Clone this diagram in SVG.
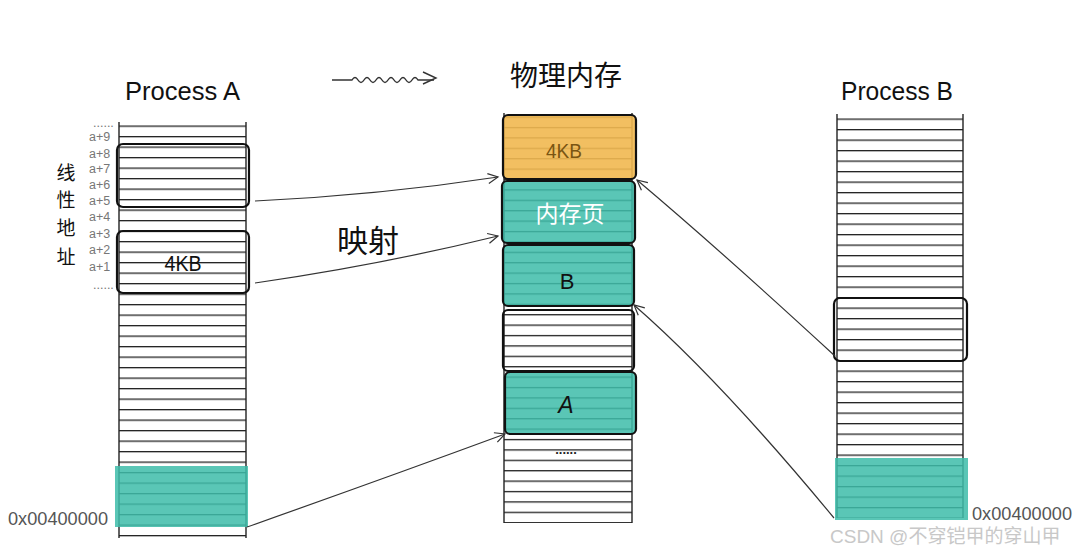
<svg xmlns="http://www.w3.org/2000/svg" width="1077" height="552" viewBox="0 0 1077 552">
<style>
.title{font-family:"Liberation Sans",sans-serif;font-size:26px;fill:#111}
.cjk{font-family:"Noto Sans CJK SC",sans-serif;fill:#111}
.addr{font-family:"Liberation Sans",sans-serif;font-size:12.5px;fill:#777}
.hex{font-family:"Liberation Sans",sans-serif;font-size:18px;fill:#555}
.box{stroke:#111;stroke-width:2.2}
.teal{fill:#3fbdaa;fill-opacity:0.86}
.orange{fill:#f1b850;fill-opacity:0.9}
.conn{fill:none;stroke:#333;stroke-width:1.2}
.col{stroke:#222;stroke-width:1.4}
.lbl{font-family:"Liberation Sans",sans-serif;text-anchor:middle}
</style>
<defs>
<pattern id="rowsA" patternUnits="userSpaceOnUse" x="0" y="125.5" width="10" height="10.5"><rect width="10" height="1.3" fill="#222"/></pattern>
<pattern id="rowsM" patternUnits="userSpaceOnUse" x="0" y="116.5" width="10" height="10.4"><rect width="10" height="1.3" fill="#222"/></pattern>
<pattern id="rowsB" patternUnits="userSpaceOnUse" x="0" y="118.5" width="10" height="10.5"><rect width="10" height="1.3" fill="#222"/></pattern>
<marker id="arr" markerUnits="userSpaceOnUse" markerWidth="14" markerHeight="14" refX="11" refY="6" orient="auto"><path d="M1 1 L11 6 L1 11" fill="none" stroke="#333" stroke-width="1.2"/></marker>
</defs>
<rect width="1077" height="552" fill="#fff"/>

<g id="header">
<text class="title" x="125" y="100" textLength="115" lengthAdjust="spacingAndGlyphs">Process A</text>
<text class="title" x="841" y="100" textLength="112" lengthAdjust="spacingAndGlyphs">Process B</text>
<text class="cjk" x="510" y="86" font-size="28">物理内存</text>
<path d="M332 80 H352 q3 -5 6 0 t6 0 t6 0 t6 0 t6 0 t6 0 t6 0 t6 0 t6 0 t6 0 t6 0 H434" fill="none" stroke="#333" stroke-width="1.4"/>
<path d="M423 72 L436 78 L423 84" fill="none" stroke="#333" stroke-width="1.4"/>
</g>

<g id="processA">
<rect x="119" y="122" width="127" height="416" fill="url(#rowsA)"/>
<line class="col" x1="119" y1="122" x2="119" y2="538"/>
<line class="col" x1="246" y1="122" x2="246" y2="538"/>
</g>
<g id="linear-label">
<text class="cjk" x="66" y="180" font-size="19" text-anchor="middle">线</text>
<text class="cjk" x="66" y="207" font-size="19" text-anchor="middle">性</text>
<text class="cjk" x="66" y="235" font-size="19" text-anchor="middle">地</text>
<text class="cjk" x="66" y="264" font-size="19" text-anchor="middle">址</text>
</g>
<g id="addresses">
<text class="addr" x="93" y="127" font-size="9">......</text>
<text class="addr" x="89" y="141">a+9</text>
<text class="addr" x="89" y="158">a+8</text>
<text class="addr" x="89" y="173">a+7</text>
<text class="addr" x="89" y="189">a+6</text>
<text class="addr" x="89" y="205">a+5</text>
<text class="addr" x="89" y="221">a+4</text>
<text class="addr" x="89" y="238">a+3</text>
<text class="addr" x="89" y="254">a+2</text>
<text class="addr" x="89" y="271">a+1</text>
<text class="addr" x="93" y="289" font-size="9">......</text>
</g>
<g id="a-page1"><rect class="box" x="117" y="144" width="132" height="63" rx="6" fill="none"/></g>
<g id="a-page2"><rect class="box" x="117" y="231" width="132" height="62" rx="6" fill="none"/>
<text class="lbl" x="183" y="271" font-size="22" fill="#111" textLength="37" lengthAdjust="spacingAndGlyphs">4KB</text></g>
<g id="a-base"><rect class="teal" x="115" y="466" width="133" height="61"/>
<text class="hex" x="8" y="525" textLength="100" lengthAdjust="spacingAndGlyphs">0x00400000</text></g>

<g id="physical">
<rect x="504" y="113" width="128" height="410" fill="url(#rowsM)"/>
<line class="col" x1="504" y1="113" x2="504" y2="523"/>
<line class="col" x1="632" y1="113" x2="632" y2="523"/>
<text x="566" y="454" font-family="Liberation Sans,sans-serif" font-size="13" font-weight="bold" fill="#222" text-anchor="middle">......</text>
</g>
<g id="m-4kb"><rect class="box orange" x="503" y="115" width="133" height="64" rx="5"/>
<text class="lbl" x="564" y="158" font-size="21" fill="#7a5512" textLength="36" lengthAdjust="spacingAndGlyphs">4KB</text></g>
<g id="m-page"><rect class="box teal" x="502" y="181" width="133" height="62" rx="5"/>
<text class="cjk" x="570" y="222" font-size="23" text-anchor="middle" style="fill:#fff">内存页</text></g>
<g id="m-b"><rect class="box teal" x="503" y="245" width="131" height="61" rx="5"/>
<text class="lbl" x="567" y="289" font-size="22" fill="#111">B</text></g>
<g id="m-empty"><rect class="box" x="503" y="310" width="131" height="61" rx="5" fill="none"/></g>
<g id="m-a"><rect class="box teal" x="505" y="372" width="131" height="62" rx="5"/>
<text class="lbl" x="566" y="413" font-size="23" font-style="italic" fill="#111">A</text></g>

<g id="processB">
<rect x="837" y="114" width="126" height="404" fill="url(#rowsB)"/>
<line class="col" x1="837" y1="114" x2="837" y2="518"/>
<line class="col" x1="963" y1="114" x2="963" y2="518"/>
</g>
<g id="b-page"><rect class="box" x="834" y="298" width="133" height="63" rx="6" fill="none"/></g>
<g id="b-base"><rect class="teal" x="835" y="458" width="133" height="62"/>
<text class="hex" x="972" y="520" textLength="100" lengthAdjust="spacingAndGlyphs">0x00400000</text></g>

<g id="mapping-label"><text class="cjk" x="337" y="252" font-size="31">映射</text></g>

<g id="connectors">
<path class="conn" d="M255 201 Q380 195 498 177" marker-end="url(#arr)"/>
<path class="conn" d="M255 283 Q380 265 498 236" marker-end="url(#arr)"/>
<path class="conn" d="M247 527 Q380 480 505 434" marker-end="url(#arr)"/>
<path class="conn" d="M835 356 Q720 250 637 180" marker-end="url(#arr)"/>
<path class="conn" d="M834 518 Q720 380 634 305" marker-end="url(#arr)"/>
</g>

<g id="watermark"><text x="830" y="543" font-family="Liberation Sans,Noto Sans CJK SC,sans-serif" font-size="19" fill="#c8c8c8">CSDN @不穿铠甲的穿山甲</text></g>
</svg>
